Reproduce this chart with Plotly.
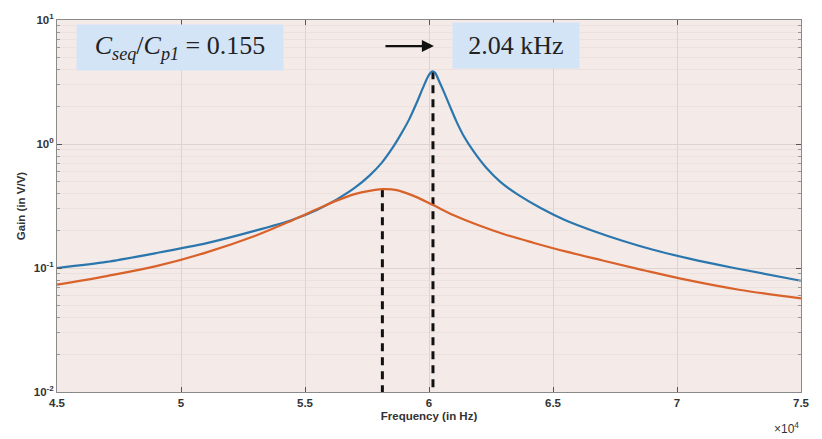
import plotly.graph_objects as go

# Frequency samples (Hz) and gain (V/V) for the two responses
freq_blue = [45000, 47000, 49000, 51000, 53000, 54500, 55500, 56300, 57000, 57600,
             58100, 58500, 58900, 59200, 59500, 59750, 59950, 60080, 60160, 60260,
             60400, 60600, 60850, 61100, 61400, 61800, 62300, 62900, 63600, 64500,
             65500, 66600, 67800, 69000, 70500, 72300, 75000]
gain_blue = [0.100, 0.112, 0.132, 0.158, 0.200, 0.245, 0.295, 0.359, 0.442, 0.556,
             0.708, 0.912, 1.23, 1.58, 2.14, 2.82, 3.47, 3.78, 3.86, 3.72,
             3.24, 2.63, 2.00, 1.53, 1.16, 0.871, 0.646, 0.490, 0.389, 0.305,
             0.243, 0.200, 0.166, 0.141, 0.119, 0.100, 0.0789]

freq_orange = [45000, 47000, 49000, 51000, 53000, 54500, 55500, 56300, 57000, 57600,
               58120, 58700, 59400, 60160, 61000, 62000, 63000, 64200, 65500, 67000,
               68700, 70500, 72500, 75000]
gain_orange = [0.0733, 0.0861, 0.1035, 0.133, 0.182, 0.243, 0.299, 0.351, 0.394, 0.419,
               0.432, 0.425, 0.380, 0.322, 0.266, 0.221, 0.188, 0.160, 0.136, 0.115,
               0.0955, 0.0794, 0.0668, 0.0568]

# Resonance markers (Hz) and the gain at each peak
peak_freqs = [58120, 60160]
peak_gains = [0.432, 3.86]

x_ticks = [45000, 50000, 55000, 60000, 65000, 70000, 75000]
x_tick_labels = ["4.5", "5", "5.5", "6", "6.5", "7", "7.5"]
y_ticks = [0.01, 0.1, 1, 10]
y_tick_labels = ["10<sup>-2</sup>", "10<sup>-1</sup>", "10<sup>0</sup>", "10<sup>1</sup>"]
y_minor_ticks = [k * d for d in (0.01, 0.1, 1) for k in range(2, 10)]

ratio_label = "<i>C<sub>seq</sub></i>/<i>C<sub>p1</sub></i> = 0.155"
shift_label = "2.04 kHz"

fig = go.Figure()

# Dashed drop lines from each peak to the axis
for f, g in zip(peak_freqs, peak_gains):
    fig.add_trace(go.Scatter(
        x=[f, f], y=[g, 0.01], mode="lines",
        line=dict(color="#111111", width=3, dash="8px,6px"),
        showlegend=False, hoverinfo="skip"))

fig.add_trace(go.Scatter(
    x=freq_blue, y=gain_blue, mode="lines",
    line=dict(color="#2b77ad", width=2.2, shape="spline", smoothing=0.7),
    showlegend=False))
fig.add_trace(go.Scatter(
    x=freq_orange, y=gain_orange, mode="lines",
    line=dict(color="#d9622b", width=2.2, shape="spline", smoothing=1.0),
    showlegend=False))

tick_font = dict(family="Liberation Sans", size=11.5, color="#333333", weight="bold")

fig.update_xaxes(
    range=[45000, 75000], tickvals=x_ticks, ticktext=x_tick_labels,
    ticks="inside", ticklen=5, tickcolor="#555555",
    showline=True, linecolor="#8a8a8a", linewidth=1, mirror="ticks",
    showgrid=True, gridcolor="#dcd4d3", gridwidth=1, zeroline=False,
    tickfont=tick_font,
    title=dict(text="Frequency (in Hz)", font=tick_font, standoff=4),
)
fig.update_yaxes(
    type="log", range=[-2, 1], tickvals=y_ticks, ticktext=y_tick_labels,
    ticks="inside", ticklen=5, tickcolor="#555555",
    showline=True, linecolor="#8a8a8a", linewidth=1, mirror="ticks",
    showgrid=True, gridcolor="#dcd4d3", gridwidth=1, zeroline=False,
    minor=dict(tickvals=y_minor_ticks, ticks="inside", ticklen=3,
               tickcolor="#999999", showgrid=True, gridcolor="#ebe2e0",
               gridwidth=1),
    tickfont=tick_font,
    title=dict(text="Gain (in V/V)", font=tick_font, standoff=5),
)

fig.add_annotation(
    x=0.025, y=0.988, xref="paper", yref="paper", xanchor="left", yanchor="top",
    text=ratio_label, showarrow=False, bgcolor="#d3e4f7",
    width=202, height=41, borderpad=2,
    font=dict(family="Liberation Serif", size=26, color="#222222"))
fig.add_annotation(
    x=0.531, y=0.994, xref="paper", yref="paper", xanchor="left", yanchor="top",
    text=shift_label, showarrow=False, bgcolor="#d3e4f7",
    width=122, height=41, borderpad=2,
    font=dict(family="Liberation Serif", size=26, color="#222222"))
fig.add_annotation(
    x=60200, y=0.93, xref="x", yref="paper", ax=-50, ay=0,
    text="", showarrow=True, arrowhead=2, arrowsize=1.1, arrowwidth=2.2,
    arrowcolor="#111111")
fig.add_annotation(
    x=1.0, y=-0.097, xref="paper", yref="paper", xanchor="right", yanchor="middle",
    text="\u00d710<sup>4</sup>", showarrow=False,
    font=dict(family="Liberation Sans", size=12, color="#333333"))

fig.update_layout(
    width=822, height=439,
    margin=dict(l=57, r=14, t=14, b=47),
    paper_bgcolor="white", plot_bgcolor="#f4ebe9",
)

fig.write_html("out.html")
